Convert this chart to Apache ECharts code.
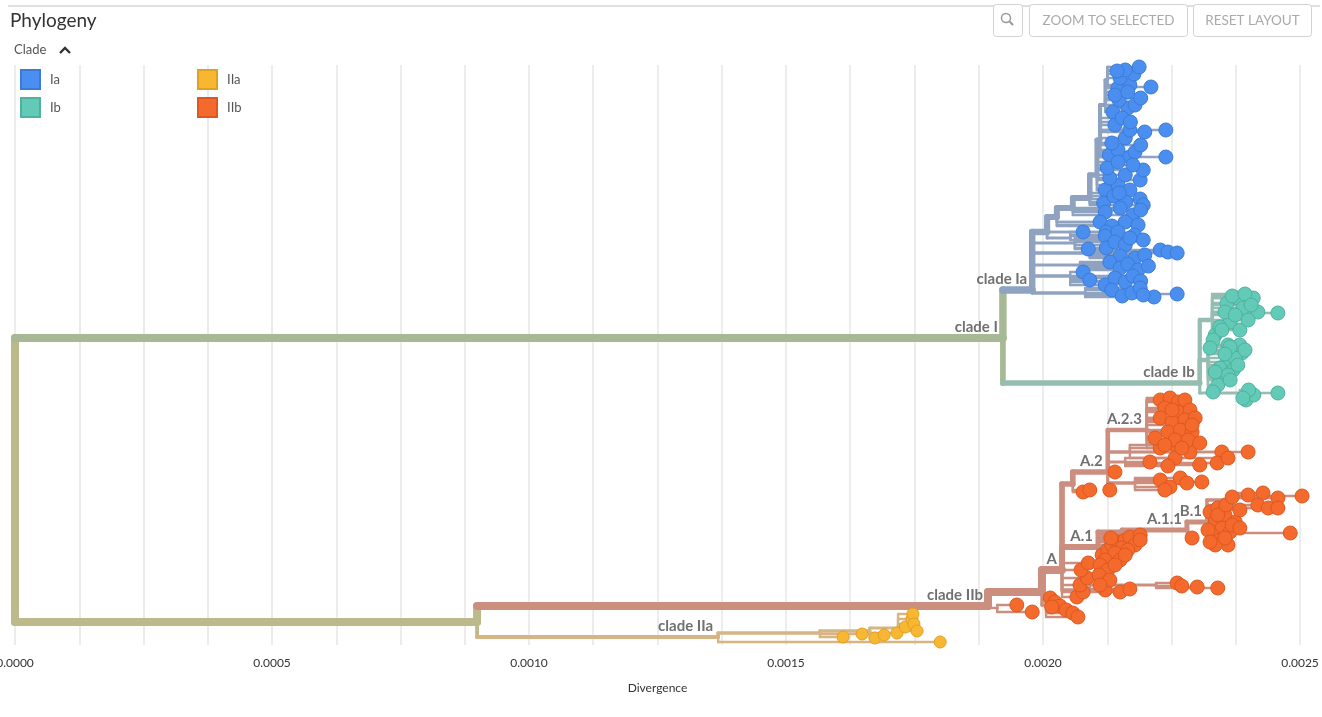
<!DOCTYPE html>
<html lang="en">
<head>
    <meta charset="UTF-8">
    <title>Phylogeny</title>
    <script type="text/javascript" src="https://cdn.jsdelivr.net/npm/echarts@6.0.0/dist/echarts.min.js"></script>
    <style>
        html, body { margin: 0; padding: 0; background: #fff; }
        #main { width: 1322px; height: 717px; }
    </style>
</head>
<body>
<div id="main"></div>
<script type="text/javascript">
// divergence values below are in units of 1e-5
var DIV_UNIT = 1e-5;

// [id, parent, divergence, layout y, clade]
var internalNodes = [
    ['root', null, 0, 415, 'root'],
    ['I', 'root', 192.2, 273, 'I'],
    ['II', 'root', 89.9, 557, 'II'],
    ['Ia', 'I', 197.9, 225, 'Ia'],
    ['Ib', 'I', 230.5, 318, 'Ib'],
    ['IIa', 'II', 136.8, 572, 'IIa'],
    ['IIb', 'II', 189.3, 541, 'IIb'],
    // clade Ia
    ['S1', 'Ia', 200.8, 167, 'Ia'],
    ['L1', 'Ia', 206.2, 178, 'Ia'],
    ['L2', 'Ia', 209.1, 188, 'Ia'],
    ['L3', 'Ia', 207.2, 200, 'Ia'],
    ['L4', 'Ia', 205.3, 211, 'Ia'],
    ['L5', 'Ia', 208.2, 228, 'Ia'],
    ['L6', 'S1', 205.3, 173, 'Ia'],
    ['S2', 'S1', 202.7, 152, 'Ia'],
    ['S3', 'S2', 205.8, 143, 'Ia'],
    ['S4', 'S3', 209.1, 133, 'Ia'],
    ['S5', 'S4', 210.5, 110, 'Ia'],
    ['S6', 'S5', 211.1, 75, 'Ia'],
    ['S7', 'S6', 212.1, 40, 'Ia'],
    ['S8', 'S7', 212.5, 15, 'Ia'],
    // clade Ib
    ['Ib1', 'Ib', 232.9, 255, 'Ib'],
    ['Ib2', 'Ib', 232.1, 295, 'Ib'],
    ['Ib3', 'Ib', 238.3, 328, 'Ib'],
    // clade IIa
    ['a1', 'IIa', 156.6, 568, 'IIa'],
    ['a2', 'a1', 166.3, 566, 'IIa'],
    ['a3', 'a2', 171.8, 563, 'IIa'],
    // clade IIb
    ['N1', 'IIb', 191.1, 543, 'IIb'],
    ['N2', 'IIb', 199.8, 527, 'IIb'],
    ['Nlow', 'N2', 200.6, 540, 'IIb'],
    ['A', 'N2', 203.7, 505, 'IIb'],
    ['A2pre', 'A', 205.8, 419, 'IIb'],
    ['A2', 'A2pre', 212.6, 407, 'IIb'],
    ['A1', 'A', 210.7, 482, 'IIb'],
    ['Alow2', 'A', 209.1, 525, 'IIb'],
    ['Alow3', 'Alow2', 222.0, 520, 'IIb'],
    ['M', 'A1', 215.4, 467, 'IIb'],
    ['A11', 'M', 228.0, 465, 'IIb'],
    ['B1', 'A11', 231.9, 457, 'IIb'],
    ['B1a', 'B1', 236.4, 435, 'IIb'],
    ['A23', 'A2', 220.2, 365, 'IIb'],
    ['P1', 'A2', 216.9, 387, 'IIb'],
    ['P2', 'A2', 216.0, 397, 'IIb'],
    ['P3', 'A2', 217.9, 418, 'IIb']
];

// tips: [parent, divergence, layout y]
var tipsIa = [
    ['S8', 214.6, 23], ['S8', 216.9, 20], ['S8', 221.0, 22], ['S8', 215.0, 13], ['S8', 217.7, 9], ['S8', 216.0, 5], ['S8', 218.7, 2], ['S8', 214.4, 6],
    ['S7', 213.6, 47], ['S7', 216.5, 43], ['S7', 214.8, 35], ['S7', 217.9, 40], ['S7', 214.0, 30], ['S7', 216.5, 27], ['S7', 219.0, 33],
    ['S6', 212.9, 90], ['S6', 214.6, 85], ['S6', 216.9, 92], ['S6', 217.9, 87], ['S6', 223.9, 92], ['S6', 213.4, 78], ['S6', 216.0, 73],
    ['S6', 216.9, 65], ['S6', 219.8, 67], ['S6', 223.9, 65], ['S6', 214.0, 60], ['S6', 215.4, 53], ['S6', 219.0, 80], ['S6', 217.0, 57],
    ['S5', 212.1, 125], ['S5', 214.6, 120], ['S5', 216.9, 125], ['S5', 213.0, 113], ['S5', 216.0, 110], ['S5', 218.9, 115],
    ['S5', 212.5, 103], ['S5', 214.6, 97], ['S5', 219.5, 105], ['S5', 217.5, 100],
    ['S4', 211.8, 138], ['S4', 213.8, 131], ['S4', 216.1, 137], ['S4', 218.9, 134], ['S4', 214.8, 128], ['S4', 219.5, 140],
    ['S3', 212.1, 147], ['S3', 215.0, 143], ['S3', 217.5, 150], ['S3', 219.0, 145],
    ['S2', 211.1, 157], ['S2', 213.4, 161], ['S2', 216.0, 157], ['S2', 218.5, 160],
    ['S1', 207.8, 167], ['S1', 212.3, 167],
    ['L6', 212.1, 171], ['L6', 214.6, 167], ['L6', 217.8, 170], ['L6', 219.5, 175],
    ['L1', 208.8, 184], ['L1', 212.3, 183], ['L1', 214.0, 177], ['L1', 216.0, 180], ['L1', 216.9, 173],
    ['L2', 215.0, 191], ['L2', 217.9, 193], ['L2', 219.8, 190], ['L2', 222.8, 185], ['L2', 224.3, 187], ['L2', 226.1, 188],
    ['L3', 213.0, 197], ['L3', 215.0, 203], ['L3', 216.5, 199], ['L3', 218.5, 205], ['L3', 220.5, 201],
    ['L4', 207.8, 207], ['L4', 209.1, 215], ['L4', 212.1, 220], ['L4', 214.0, 213], ['L4', 216.0, 217], ['L4', 217.5, 211], ['L4', 219.0, 216],
    ['L5', 213.4, 225], ['L5', 215.4, 231], ['L5', 217.3, 228], ['L5', 218.9, 223], ['L5', 221.6, 232], ['L5', 226.1, 229], ['L5', 219.5, 230]
];

var tipsIb = [
    ['Ib1', 237.9, 233], ['Ib1', 240.9, 233], ['Ib1', 235.8, 238], ['Ib1', 238.9, 243], ['Ib1', 241.8, 247], ['Ib1', 245.7, 248],
    ['Ib1', 236.4, 257], ['Ib1', 238.3, 265], ['Ib1', 233.5, 270], ['Ib1', 235.4, 247], ['Ib1', 237.4, 250], ['Ib1', 239.9, 255],
    ['Ib1', 236.8, 231], ['Ib1', 239.3, 229], ['Ib1', 234.4, 262], ['Ib1', 240.5, 240], ['Ib1', 234.8, 265],
    ['Ib2', 233.1, 275], ['Ib2', 232.5, 283], ['Ib2', 237.0, 287], ['Ib2', 238.7, 288], ['Ib2', 235.8, 297], ['Ib2', 237.4, 293],
    ['Ib2', 237.0, 305], ['Ib2', 235.0, 313], ['Ib2', 234.0, 320], ['Ib2', 233.1, 327], ['Ib2', 236.0, 280], ['Ib2', 238.3, 280],
    ['Ib2', 239.3, 285], ['Ib2', 234.4, 303], ['Ib2', 236.0, 310], ['Ib2', 236.4, 282], ['Ib2', 235.4, 289], ['Ib2', 237.9, 300],
    ['Ib2', 236.4, 315], ['Ib2', 233.5, 307],
    ['Ib3', 239.5, 335], ['Ib3', 241.0, 330], ['Ib3', 240.0, 325], ['Ib3', 245.7, 328], ['Ib3', 238.9, 333]
];

var tipsIIa = [
    ['IIa', 180.0, 577],
    ['a1', 161.1, 572], ['a1', 164.8, 569],
    ['a2', 167.3, 573], ['a2', 169.1, 570], ['a2', 171.6, 568],
    ['a3', 173.2, 562], ['a3', 174.5, 554], ['a3', 174.7, 549], ['a3', 174.9, 559], ['a3', 175.5, 566]
];

var tipsIIb = [
    ['N1', 194.9, 540], ['N1', 197.9, 547],
    ['Nlow', 201.4, 533], ['Nlow', 202.3, 537], ['Nlow', 203.3, 541], ['Nlow', 204.5, 545], ['Nlow', 205.8, 548], ['Nlow', 206.8, 552], ['Nlow', 201.7, 542],
    ['A', 206.6, 532], ['A', 207.8, 527], ['A', 207.2, 520], ['A', 208.6, 513], ['A', 207.4, 505], ['A', 208.8, 498],
    ['Alow2', 212.1, 525], ['Alow2', 215.0, 527], ['Alow2', 216.9, 524],
    ['Alow3', 226.1, 518], ['Alow3', 227.0, 521], ['Alow3', 230.0, 522], ['Alow3', 234.0, 523],
    ['A2pre', 207.8, 427], ['A2pre', 209.1, 425],
    ['A1', 211.5, 490], ['A1', 212.6, 485], ['A1', 213.4, 480], ['A1', 214.6, 477], ['A1', 216.0, 475], ['A1', 216.9, 472],
    ['A1', 215.4, 483], ['A1', 214.0, 488], ['A1', 212.1, 495], ['A1', 213.2, 473], ['A1', 217.9, 480], ['A1', 211.1, 500],
    ['A1', 216.5, 485], ['A1', 218.9, 470], ['A1', 212.6, 505], ['A1', 210.9, 510], ['A1', 215.0, 495], ['A1', 214.0, 500],
    ['A1', 213.0, 515], ['A1', 218.9, 475], ['A1', 216.0, 490], ['A1', 211.1, 520],
    ['A11', 229.0, 473],
    ['B1', 232.5, 447], ['B1', 234.0, 443], ['B1', 235.4, 450], ['B1', 233.5, 457], ['B1', 234.8, 463], ['B1', 232.9, 470],
    ['B1', 234.4, 475], ['B1', 236.4, 467], ['B1', 237.4, 457], ['B1', 238.3, 445], ['B1', 236.0, 480], ['B1', 233.5, 480], ['B1', 248.1, 468],
    ['B1', 232.1, 465], ['B1', 235.4, 473], ['B1', 236.8, 460], ['B1', 234.0, 450], ['B1', 238.3, 463], ['B1', 232.5, 477], ['B1', 235.6, 440],
    ['B1a', 236.8, 432], ['B1a', 239.9, 430], ['B1a', 242.8, 428], ['B1a', 245.7, 433], ['B1a', 250.4, 431], ['B1a', 241.8, 440],
    ['B1a', 243.8, 443], ['B1a', 245.7, 443],
    ['A2', 214.0, 407], ['A2', 213.0, 425],
    ['P1', 222.8, 383], ['P1', 225.7, 380], ['P1', 228.6, 387], ['P1', 234.8, 387], ['P1', 239.9, 387], ['P1', 225.7, 393],
    ['P2', 220.8, 397], ['P2', 224.3, 401], ['P2', 230.5, 400], ['P2', 233.9, 398], ['P2', 236.0, 393],
    ['P3', 222.8, 415], ['P3', 224.7, 422], ['P3', 226.7, 413], ['P3', 228.0, 418], ['P3', 230.9, 417], ['P3', 223.7, 425],
    ['A23', 222.8, 335], ['A23', 224.7, 333], ['A23', 226.3, 337], ['A23', 227.6, 335], ['A23', 223.7, 343], ['A23', 226.3, 347],
    ['A23', 228.6, 345], ['A23', 222.8, 353], ['A23', 225.1, 357], ['A23', 227.6, 355], ['A23', 229.6, 353], ['A23', 221.8, 373],
    ['A23', 224.3, 367], ['A23', 226.7, 365], ['A23', 229.0, 367], ['A23', 225.7, 375], ['A23', 228.2, 375], ['A23', 230.5, 378],
    ['A23', 223.7, 380], ['A23', 227.0, 383], ['A23', 229.0, 360], ['A23', 225.1, 345]
];

var branchLabels = [
    ['I', 'clade I'], ['Ia', 'clade Ia'], ['Ib', 'clade Ib'], ['IIa', 'clade IIa'], ['IIb', 'clade IIb'],
    ['A', 'A'], ['A1', 'A.1'], ['A2', 'A.2'], ['A23', 'A.2.3'], ['A11', 'A.1.1'], ['B1', 'B.1']
];

var tipClades = ['Ia', 'Ib', 'IIa', 'IIb'];
var tipTables = { Ia: tipsIa, Ib: tipsIb, IIa: tipsIIa, IIb: tipsIIb };

var branchColor = {
    root: '#bcb98a', I: '#a6b994', II: '#bcb98a',
    Ia: '#8fa3c1', Ib: '#96bdb2', IIa: '#d6b583', IIb: '#cc8f7f'
};
var tipColor = { Ia: '#4a8ff0', Ib: '#62cab7', IIa: '#f7b733', IIb: '#f36a2c' };
var tipBorder = { Ia: '#3b7bd6', Ib: '#4fb19f', IIa: '#e2a020', IIb: '#dc5820' };
var tipSize = { Ia: 14, Ib: 14, IIa: 12, IIb: 14 };

// build tree
var nodes = {};
var order = [];
internalNodes.forEach(function (n) {
    nodes[n[0]] = { id: n[0], parent: n[1], x: n[2] * DIV_UNIT, y: n[3], clade: n[4], tips: 0 };
    order.push(n[0]);
});
tipClades.forEach(function (c) {
    tipTables[c].forEach(function (t, i) {
        var id = c + '_tip' + i;
        nodes[id] = { id: id, parent: t[0], x: t[1] * DIV_UNIT, y: t[2], clade: c, tips: 1, tip: true };
        order.push(id);
    });
});
order.forEach(function (id) {
    if (!nodes[id].tip) return;
    var p = nodes[id].parent;
    while (p) { nodes[p].tips += 1; p = nodes[p].parent; }
});

var edges = [];
order.forEach(function (id) {
    var n = nodes[id];
    if (!n.parent) return;
    var p = nodes[n.parent];
    edges.push({
        value: [p.x, p.y, n.x, n.y],
        width: Math.min(8, 1.8 + 0.6 * Math.sqrt(n.tips)),
        c0: branchColor[p.clade],
        c1: branchColor[n.clade]
    });
});

var labelData = branchLabels.map(function (l) {
    var n = nodes[l[0]];
    return { value: [n.x, n.y], text: l[1] };
});

var tipSeries = tipClades.map(function (c) {
    return {
        name: c,
        type: 'scatter',
        clip: false,
        z: 3,
        symbolSize: tipSize[c],
        itemStyle: { color: tipColor[c], borderColor: tipBorder[c], borderWidth: 1, opacity: 1 },
        data: order.filter(function (id) { return nodes[id].tip && nodes[id].clade === c; })
            .map(function (id) { return [nodes[id].x, nodes[id].y]; })
    };
});

var myChart = echarts.init(document.getElementById('main'));
var option = {
    animation: false,
    backgroundColor: '#fff',
    textStyle: { fontFamily: 'Lato' },
    grid: { left: 15, right: 22, top: 65, bottom: 72, containLabel: false, outerBoundsMode: 'none' },
    xAxis: {
        type: 'value',
        min: 0,
        max: 0.0025,
        interval: 0.000125,
        name: 'Divergence',
        nameLocation: 'middle',
        nameGap: 37,
        nameTextStyle: { color: '#333', fontSize: 12, fontFamily: 'Lato' },
        axisLine: { show: false },
        axisTick: { show: false },
        axisLabel: {
            color: '#333',
            fontSize: 12,
            margin: 12,
            fontFamily: 'Lato',
            formatter: function (v) {
                var k = v / 0.0005;
                return Math.abs(k - Math.round(k)) < 1e-6 ? v.toFixed(4) : '';
            }
        },
        splitLine: { show: true, lineStyle: { color: '#e6e6e6', width: 1.5 } }
    },
    yAxis: {
        type: 'value',
        min: 0,
        max: 580,
        inverse: true,
        show: false
    },
    legend: [
        {
            data: ['Ia', 'Ib'],
            left: 20, top: 69, orient: 'vertical', padding: 0,
            itemWidth: 19, itemHeight: 19, itemGap: 7, icon: 'rect',
            textStyle: { color: '#555', fontSize: 13, fontFamily: 'Lato', padding: [0, 0, 0, 5] }
        },
        {
            data: ['IIa', 'IIb'],
            left: 197, top: 69, orient: 'vertical', padding: 0,
            itemWidth: 19, itemHeight: 19, itemGap: 7, icon: 'rect',
            textStyle: { color: '#555', fontSize: 13, fontFamily: 'Lato', padding: [0, 0, 0, 5] }
        }
    ],
    graphic: [
        { type: 'rect', shape: { x: 8, y: 5, width: 1312, height: 2 }, style: { fill: '#e0e0e0' } },
        { type: 'text', x: 10, y: 11, style: { text: 'Phylogeny', font: '19px Lato', fill: '#333' } },
        { type: 'text', x: 14, y: 43, style: { text: 'Clade', font: '13px Lato', fill: '#555' } },
        { type: 'polyline', shape: { points: [[60, 53], [65, 48], [70, 53]] }, style: { stroke: '#333', lineWidth: 2.4, fill: null } },
        { type: 'rect', shape: { x: 993.5, y: 4.5, width: 29, height: 32, r: 3 }, style: { fill: '#fff', stroke: '#d2d2d2', lineWidth: 1 } },
        { type: 'circle', shape: { cx: 1006, cy: 18, r: 4.5 }, style: { fill: null, stroke: '#999', lineWidth: 1.5 } },
        { type: 'line', shape: { x1: 1009.5, y1: 21.5, x2: 1013, y2: 25 }, style: { stroke: '#999', lineWidth: 2 } },
        { type: 'rect', shape: { x: 1029.5, y: 4.5, width: 158, height: 32, r: 3 }, style: { fill: '#fff', stroke: '#d2d2d2', lineWidth: 1 } },
        { type: 'text', x: 1108.5, y: 21, style: { text: 'ZOOM TO SELECTED', font: '13.5px Lato', fill: '#aaa', align: 'center', verticalAlign: 'middle' } },
        { type: 'rect', shape: { x: 1193.5, y: 4.5, width: 118, height: 32, r: 3 }, style: { fill: '#fff', stroke: '#d2d2d2', lineWidth: 1 } },
        { type: 'text', x: 1252.5, y: 21, style: { text: 'RESET LAYOUT', font: '13.5px Lato', fill: '#aaa', align: 'center', verticalAlign: 'middle' } }
    ],
    series: [
        {
            name: 'branches',
            type: 'custom',
            clip: false,
            z: 2,
            silent: true,
            data: edges.map(function (e) { return e.value; }),
            renderItem: function (params, api) {
                var e = edges[params.dataIndex];
                var p0 = api.coord([api.value(0), api.value(1)]);
                var p1 = api.coord([api.value(2), api.value(3)]);
                return {
                    type: 'group',
                    children: [
                        {
                            type: 'line',
                            shape: { x1: p0[0], y1: p0[1], x2: p0[0], y2: p1[1] },
                            style: { stroke: e.c0, lineWidth: e.width, lineCap: 'round' }
                        },
                        {
                            type: 'line',
                            shape: { x1: p0[0], y1: p1[1], x2: p1[0], y2: p1[1] },
                            style: { stroke: e.c1, lineWidth: e.width, lineCap: 'round' }
                        }
                    ]
                };
            }
        }
    ].concat(tipSeries).concat([
        {
            name: 'labels',
            type: 'custom',
            clip: false,
            z: 4,
            silent: true,
            data: labelData.map(function (d) { return d.value; }),
            renderItem: function (params, api) {
                var p = api.coord([api.value(0), api.value(1)]);
                return {
                    type: 'text',
                    x: p[0] - 5,
                    y: p[1] - 11,
                    style: {
                        text: labelData[params.dataIndex].text,
                        align: 'right',
                        verticalAlign: 'middle',
                        font: 'bold 15px Lato',
                        fill: '#707070'
                    }
                };
            }
        }
    ])
};
myChart.setOption(option);
</script>
</body>
</html>
